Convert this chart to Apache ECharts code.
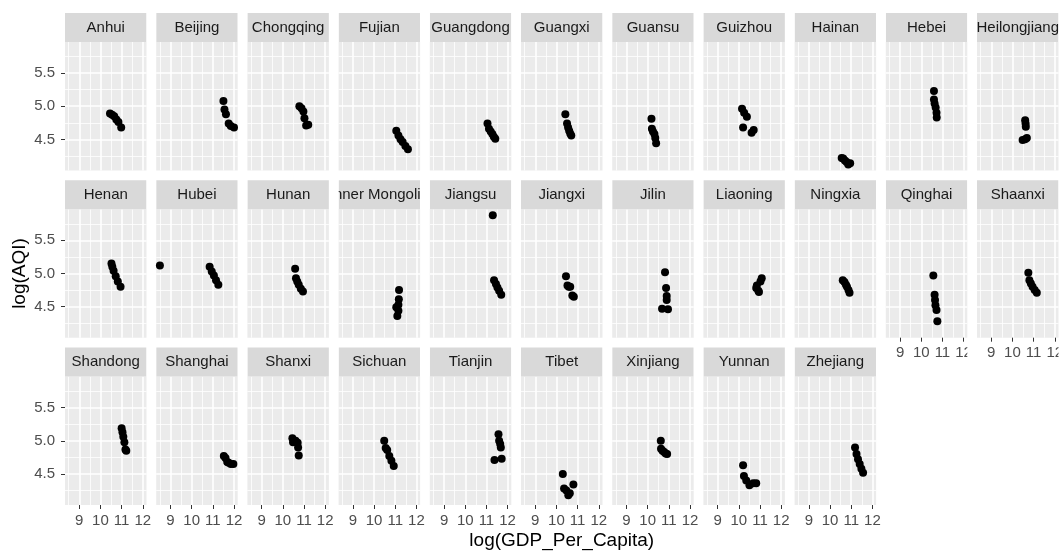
<!DOCTYPE html>
<html>
<head>
<meta charset="utf-8">
<script src="https://cdn.jsdelivr.net/npm/echarts@6/dist/echarts.min.js"></script>
<style>
  html, body { margin: 0; padding: 0; background: #ffffff; }
  #chart { width: 1060px; height: 552px; }
</style>
</head>
<body>
<div id="chart"></div>
<script>
// Province facets, in panel order
const provinces = [
  "Anhui", "Beijing", "Chongqing", "Fujian", "Guangdong", "Guangxi", "Guansu", "Guizhou",
  "Hainan", "Hebei", "Heilongjiang", "Henan", "Hubei", "Hunan", "Inner Mongolia", "Jiangsu",
  "Jiangxi", "Jilin", "Liaoning", "Ningxia", "Qinghai", "Shaanxi", "Shandong", "Shanghai",
  "Shanxi", "Sichuan", "Tianjin", "Tibet", "Xinjiang", "Yunnan", "Zhejiang"
];

// log(GDP_Per_Capita), one row per province
const logGdp = [
  [10.45, 10.55, 10.65, 10.75, 10.85, 10.98],
  [11.50, 11.55, 11.62, 11.75, 11.85, 12.00],
  [10.78, 10.88, 10.97, 11.02, 11.10, 11.20],
  [11.05, 11.15, 11.25, 11.35, 11.48, 11.60],
  [11.05, 11.12, 11.20, 11.28, 11.35, 11.42],
  [10.42, 10.50, 10.55, 10.60, 10.65, 10.70],
  [10.18, 10.20, 10.25, 10.32, 10.36, 10.40],
  [10.15, 10.25, 10.38, 10.20, 10.60, 10.70],
  [10.55, 10.62, 10.70, 10.78, 10.86, 10.95],
  [10.60, 10.60, 10.63, 10.68, 10.72, 10.73],
  [10.60, 10.62, 10.63, 10.48, 10.60, 10.68],
  [10.52, 10.56, 10.62, 10.72, 10.82, 10.95],
  [8.50, 10.85, 10.95, 11.05, 11.15, 11.26],
  [10.58, 10.62, 10.68, 10.75, 10.85, 10.95],
  [11.18, 11.17, 11.15, 11.05, 11.15, 11.10],
  [11.30, 11.36, 11.45, 11.52, 11.60, 11.70],
  [10.45, 10.52, 10.58, 10.65, 10.75, 10.82],
  [10.82, 10.87, 10.90, 10.90, 10.68, 10.96],
  [11.08, 11.02, 10.85, 10.82, 10.92, 10.95],
  [10.60, 10.68, 10.75, 10.80, 10.87, 10.92],
  [10.57, 10.63, 10.65, 10.67, 10.72, 10.76],
  [10.75, 10.80, 10.87, 10.95, 11.05, 11.15],
  [11.00, 11.04, 11.08, 11.13, 11.18, 11.22],
  [11.52, 11.60, 11.68, 11.75, 11.85, 11.97],
  [10.45, 10.48, 10.60, 10.70, 10.72, 10.75],
  [10.48, 10.55, 10.62, 10.72, 10.82, 10.93],
  [11.57, 11.60, 11.65, 11.68, 11.38, 11.72],
  [10.30, 10.36, 10.47, 10.56, 10.63, 10.80],
  [10.62, 10.63, 10.70, 10.78, 10.85, 10.92],
  [10.20, 10.24, 10.35, 10.50, 10.68, 10.82],
  [11.18, 11.25, 11.32, 11.40, 11.48, 11.56]
];

// log(AQI), same order as logGdp
const logAqi = [
  [4.89, 4.87, 4.85, 4.80, 4.76, 4.68],
  [5.08, 4.95, 4.88, 4.74, 4.70, 4.68],
  [5.00, 4.97, 4.92, 4.82, 4.71, 4.72],
  [4.63, 4.56, 4.50, 4.46, 4.40, 4.35],
  [4.74, 4.66, 4.62, 4.58, 4.54, 4.51],
  [4.88, 4.74, 4.68, 4.63, 4.59, 4.56],
  [4.81, 4.66, 4.62, 4.58, 4.52, 4.44],
  [4.96, 4.90, 4.84, 4.68, 4.60, 4.64],
  [4.22, 4.21, 4.18, 4.16, 4.12, 4.14],
  [5.23, 5.10, 5.04, 4.98, 4.90, 4.83],
  [4.79, 4.74, 4.69, 4.49, 4.50, 4.52],
  [5.15, 5.10, 5.04, 4.96, 4.88, 4.80],
  [5.12, 5.10, 5.03, 4.97, 4.90, 4.83],
  [5.07, 4.93, 4.88, 4.83, 4.77, 4.73],
  [4.75, 4.61, 4.53, 4.49, 4.44, 4.36],
  [5.88, 4.90, 4.84, 4.79, 4.74, 4.68],
  [4.96, 4.82, 4.80, 4.80, 4.67, 4.65],
  [5.02, 4.78, 4.66, 4.60, 4.47, 4.46],
  [4.93, 4.88, 4.82, 4.78, 4.74, 4.72],
  [4.90, 4.87, 4.83, 4.80, 4.75, 4.71],
  [4.97, 4.68, 4.60, 4.52, 4.45, 4.28],
  [5.01, 4.90, 4.85, 4.80, 4.75, 4.71],
  [5.19, 5.13, 5.06, 4.98, 4.87, 4.85],
  [4.77, 4.74, 4.68, 4.67, 4.65, 4.65],
  [5.04, 4.98, 5.00, 4.97, 4.90, 4.78],
  [5.00, 4.89, 4.86, 4.77, 4.70, 4.62],
  [5.10, 5.00, 4.95, 4.90, 4.71, 4.73],
  [4.50, 4.28, 4.25, 4.18, 4.21, 4.34],
  [5.00, 4.88, 4.85, 4.83, 4.81, 4.80],
  [4.63, 4.47, 4.40, 4.33, 4.36, 4.36],
  [4.90, 4.80, 4.72, 4.65, 4.58, 4.52]
];

// Tick labels and grid breaks
const xTicks = [9, 10, 11, 12];
const yTicks = [4.5, 5.0, 5.5];
const xMinor = [8.5, 9.5, 10.5, 11.5];
const yMinor = [4.25, 4.75, 5.25, 5.75];

const xTitle = "log(GDP_Per_Capita)";
const yTitle = "log(AQI)";

// Facet grid geometry
const NCOL = 11;
const panelLeft0 = 65, panelPitchX = 91.2, panelW = 81.5;
const rowTop0 = 13, rowPitch = 167.3, stripH = 29, plotH = 128.4;

const FONT = '"Liberation Sans", Arial, Helvetica, sans-serif';

// Fixed scales shared by every facet, padded by 5% on each side
function padded(values) {
  const lo = Math.min(...values), hi = Math.max(...values);
  const pad = (hi - lo) * 0.05;
  return [lo - pad, hi + pad];
}
const xRange = padded(logGdp.flat());
const yRange = padded(logAqi.flat());

const grids = [], xAxes = [], yAxes = [], series = [], graphics = [];
const n = provinces.length;

provinces.forEach((name, i) => {
  const col = i % NCOL, row = Math.floor(i / NCOL);
  const left = panelLeft0 + col * panelPitchX;
  const stripTop = rowTop0 + row * rowPitch;
  const top = stripTop + stripH;
  const showX = i + NCOL >= n;   // bottom panel of its column
  const showY = col === 0;

  grids.push({
    left: left, top: top, width: panelW, height: plotH,
    show: true, backgroundColor: '#EBEBEB', borderWidth: 0,
    containLabel: false, outerBoundsMode: 'none'
  });

  // major axes (with ticks / labels)
  xAxes.push({
    type: 'value', gridIndex: i, position: 'bottom',
    min: xRange[0], max: xRange[1], z: 1,
    axisLine: { show: false },
    axisTick: { show: showX, length: 4, customValues: xTicks, lineStyle: { color: '#333333', width: 1 } },
    axisLabel: { show: showX, customValues: xTicks, margin: 8, color: '#4D4D4D', fontSize: 15, fontFamily: FONT },
    splitLine: { show: true, lineStyle: { color: '#FFFFFF', width: 1.6 } }
  });
  yAxes.push({
    type: 'value', gridIndex: i, position: 'left',
    min: yRange[0], max: yRange[1], z: 1,
    axisLine: { show: false },
    axisTick: { show: showY, length: 4, customValues: yTicks, lineStyle: { color: '#333333', width: 1 } },
    axisLabel: { show: showY, customValues: yTicks, margin: 10, color: '#4D4D4D', fontSize: 15, fontFamily: FONT,
                 formatter: v => Number(v).toFixed(1) },
    splitLine: { show: true, lineStyle: { color: '#FFFFFF', width: 1.6 } }
  });
  // minor grid lines
  xAxes.push({
    type: 'value', gridIndex: i, position: 'top',
    min: xRange[0], max: xRange[1], z: 0,
    axisLine: { show: false },
    axisTick: { show: false, customValues: xMinor },
    axisLabel: { show: false, customValues: xMinor },
    splitLine: { show: true, lineStyle: { color: '#FFFFFF', width: 0.8 } }
  });
  yAxes.push({
    type: 'value', gridIndex: i, position: 'right',
    min: yRange[0], max: yRange[1], z: 0,
    axisLine: { show: false },
    axisTick: { show: false, customValues: yMinor },
    axisLabel: { show: false, customValues: yMinor },
    splitLine: { show: true, lineStyle: { color: '#FFFFFF', width: 0.8 } }
  });

  series.push({
    type: 'scatter', name: name,
    xAxisIndex: 2 * i, yAxisIndex: 2 * i,
    data: logGdp[i].map((x, k) => [x, logAqi[i][k]]),
    symbol: 'circle', symbolSize: 8,
    itemStyle: { color: '#000000', opacity: 1 },
    emphasis: { disabled: true },
    silent: true, animation: false, z: 3
  });

  // facet strip
  graphics.push({
    type: 'rect', silent: true, z: 10,
    shape: { x: left, y: stripTop, width: panelW, height: stripH },
    style: { fill: '#D9D9D9' }
  });
  graphics.push({
    type: 'text', silent: true, z: 11,
    x: left + panelW / 2, y: stripTop + stripH / 2,
    style: { text: name, fill: '#1A1A1A', fontSize: 15, fontFamily: FONT,
             textAlign: 'center', textVerticalAlign: 'middle' }
  });
});

// strip labels are clipped to their strip: mask the gaps beside each strip
const nRows = Math.ceil(n / NCOL);
for (let row = 0; row < nRows; row++) {
  const stripTop = rowTop0 + row * rowPitch;
  for (let col = -1; col < NCOL; col++) {
    const x0 = col < 0 ? 0 : panelLeft0 + col * panelPitchX + panelW;
    const x1 = col === NCOL - 1 ? 1060 : panelLeft0 + (col + 1) * panelPitchX;
    graphics.push({
      type: 'rect', silent: true, z: 12,
      shape: { x: x0, y: stripTop - 1, width: x1 - x0, height: stripH + 1 },
      style: { fill: '#FFFFFF' }
    });
  }
}

// axis titles
graphics.push({
  type: 'text', silent: true, z: 12,
  x: panelLeft0 + ((NCOL - 1) * panelPitchX + panelW) / 2, y: 541,
  style: { text: xTitle, fill: '#000000', fontSize: 19, fontFamily: FONT,
           textAlign: 'center', textVerticalAlign: 'middle' }
});
graphics.push({
  type: 'text', silent: true, z: 12,
  x: 20, y: rowTop0 + (2 * rowPitch + stripH + plotH + stripH) / 2 + 0,
  rotation: Math.PI / 2,
  style: { text: yTitle, fill: '#000000', fontSize: 19, fontFamily: FONT,
           textAlign: 'center', textVerticalAlign: 'middle' }
});

const chart = echarts.init(document.getElementById('chart'), null, { renderer: 'canvas' });
chart.setOption({
  animation: false,
  backgroundColor: '#FFFFFF',
  grid: grids,
  xAxis: xAxes,
  yAxis: yAxes,
  series: series,
  graphic: { elements: graphics }
});
</script>
</body>
</html>
